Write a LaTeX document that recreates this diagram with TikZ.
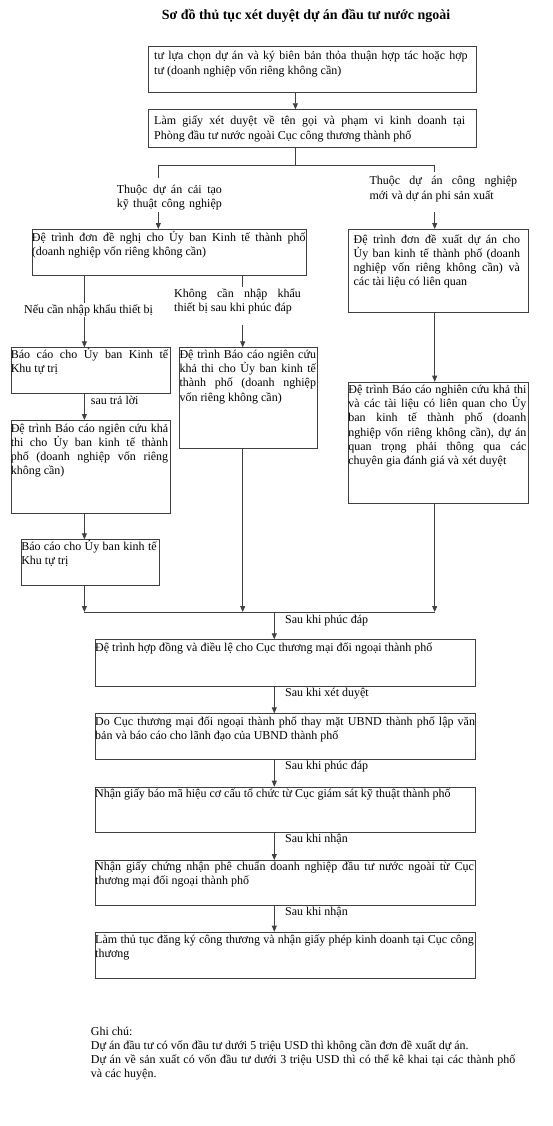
\documentclass[tikz,border=0pt]{standalone}
\usepackage{fontspec}
\setmainfont{Liberation Serif}
\usetikzlibrary{arrows.meta}
\newcommand{\JL}[1]{\makebox[\linewidth][s]{#1}}
\begin{document}
\begin{tikzpicture}[x=1pt,y=-1pt,
  box/.style={draw=black!75, line width=0.8pt, anchor=north west, inner sep=0pt},
  txt/.style={anchor=base west, inner sep=0pt, font=\fontsize{12}{14.2}\selectfont},
  lab/.style={txt, fill=white},
  conn/.style={draw=black!75, line width=0.8pt},
  arr/.style={conn, -{Triangle[length=6pt,width=5pt]}}
]
\useasboundingbox (0,0) rectangle (552,1126);

% title
\node[anchor=base, inner sep=0pt, font=\fontsize{14}{16}\selectfont\bfseries] (title) at (306,19.5) {Sơ đồ thủ tục xét duyệt dự án đầu tư nước ngoài};

% boxes
\node[box, minimum width=328.1pt, minimum height=46pt]   (b1)  at (147.7,46)    {};
\node[box, minimum width=328.1pt, minimum height=37.4pt] (b2)  at (147.7,109.3) {};
\node[box, minimum width=274.3pt, minimum height=46pt]   (b3)  at (31.7,229)    {};
\node[box, minimum width=179.3pt, minimum height=82.7pt] (b4)  at (348.2,229)   {};
\node[box, minimum width=158.9pt, minimum height=45.4pt] (b5)  at (10.6,347.3)  {};
\node[box, minimum width=137.2pt, minimum height=101pt]  (b6)  at (179.3,347.3) {};
\node[box, minimum width=158.9pt, minimum height=92.7pt] (b7)  at (10.6,420)    {};
\node[box, minimum width=179.3pt, minimum height=121.6pt](b8)  at (348.2,381.7) {};
\node[box, minimum width=137.9pt, minimum height=45.7pt] (b9)  at (21.1,539.3)  {};
\node[box, minimum width=379.8pt, minimum height=46.4pt] (b10) at (95,639.3)    {};
\node[box, minimum width=379.8pt, minimum height=45.7pt] (b11) at (95,713.3)    {};
\node[box, minimum width=379.8pt, minimum height=45.6pt] (b12) at (95,786.7)    {};
\node[box, minimum width=379.8pt, minimum height=45pt]   (b13) at (95,860)      {};
\node[box, minimum width=379.8pt, minimum height=46.6pt] (b14) at (95,931.7)    {};

% box texts
\node[txt] (t1) at (154,60) {\parbox[t]{313.5pt}{\JL{tư lựa chọn dự án và ký biên bản thỏa thuận hợp tác hoặc hợp}\\tư (doanh nghiệp vốn riêng không cần)}};
\node[txt] (t2) at (154,125) {\parbox[t]{311pt}{\JL{Làm giấy xét duyệt về tên gọi và phạm vi kinh doanh tại}\\Phòng đầu tư nước ngoài Cục công thương thành phố}};
\node[txt] (t3) at (31.7,241) {\parbox[t]{273.6pt}{\JL{Đệ trình đơn đề nghị cho Ủy ban Kinh tế thành phố}\\(doanh nghiệp vốn riêng không cần)}};
\node[txt] (t4) at (353.4,243) {\parbox[t]{166.4pt}{\JL{Đệ trình đơn đề xuất dự án cho}\\\JL{Ủy ban kinh tế thành phố (doanh}\\\JL{nghiệp vốn riêng không cần) và}\\các tài liệu có liên quan}};
\node[txt] (t5) at (10.6,358.5) {\parbox[t]{157.4pt}{\JL{Báo cáo cho Ủy ban Kinh tế}\\Khu tự trị}};
\node[txt] (t6) at (179.3,358.5) {\parbox[t]{136.5pt}{\JL{Đệ trình Báo cáo ngiên cứu}\\\JL{khả thi cho Ủy ban kinh tế}\\\JL{thành phố (doanh nghiệp}\\vốn riêng không cần)}};
\node[txt] (t7) at (10.6,432) {\parbox[t]{157.4pt}{\JL{Đệ trình Báo cáo ngiên cứu khả}\\\JL{thi cho Ủy ban kinh tế thành}\\\JL{phố (doanh nghiệp vốn riêng}\\không cần)}};
\node[txt] (t8) at (348.2,393.5) {\parbox[t]{178pt}{\JL{Đệ trình Báo cáo nghiên cứu khả thi}\\\JL{và các tài liệu có liên quan cho Ủy}\\\JL{ban kinh tế thành phố (doanh}\\\JL{nghiệp vốn riêng không cần), dự án}\\\JL{quan trọng phải thông qua các}\\chuyên gia đánh giá và xét duyệt}};
\node[txt] (t9) at (21.1,550) {\parbox[t]{135.4pt}{\JL{Báo cáo cho Ủy ban kinh tế}\\Khu tự trị}};
\node[txt] (t10) at (95,651) {Đệ trình hợp đồng và điều lệ cho Cục thương mại đối ngoại thành phố};
\node[txt] (t11) at (95,725) {\parbox[t]{379.8pt}{\JL{Do Cục thương mại đối ngoại thành phố thay mặt UBND thành phố lập văn}\\bản và báo cáo cho lãnh đạo của UBND thành phố}};
\node[txt] (t12) at (95,797) {Nhận giấy báo mã hiệu cơ cấu tổ chức từ Cục giám sát kỹ thuật thành phố};
\node[txt] (t13) at (95,870) {\parbox[t]{378.7pt}{\JL{Nhận giấy chứng nhận phê chuẩn doanh nghiệp đầu tư nước ngoài từ Cục}\\thương mại đối ngoại thành phố}};
\node[txt] (t14) at (95,943.5) {\parbox[t]{378.7pt}{\JL{Làm thủ tục đăng ký công thương và nhận giấy phép kinh doanh tại Cục công}\\thương}};

% coordinates for connectors
\coordinate (xa) at (295.4,0);
\coordinate (jl) at (158.3,165);
\coordinate (jr) at (434.7,165);
\coordinate (xl) at (84.4,0);
\coordinate (xm) at (242.7,0);
\coordinate (jb1) at (84.4,612);
\coordinate (jb3) at (434.7,612);
\coordinate (xc) at (274.3,0);

% connectors
\draw[arr] (xa |- b1.south) -- (xa |- b2.north);
\draw[conn] (xa |- b2.south) -- (xa |- jl);
\draw[conn] (jl) -- (jr);
\draw[arr] (jl) -- (jl |- b3.north);
\draw[arr] (jr) -- (jr |- b4.north);
\draw[arr] (xl |- b3.south) -- (xl |- b5.north);
\draw[arr] (xm |- b3.south) -- (xm |- b6.north);
\draw[arr] (jr |- b4.south) -- (jr |- b8.north);
\draw[arr] (xl |- b5.south) -- (xl |- b7.north);
\draw[arr] (xl |- b7.south) -- (xl |- b9.north);
\draw[arr] (xl |- b9.south) -- (jb1);
\draw[arr] (xm |- b6.south) -- (xm |- jb1);
\draw[arr] (jr |- b8.south) -- (jb3);
\draw[conn] (jb1) -- (jb3);
\draw[arr] (xc |- jb1) -- (xc |- b10.north);
\draw[arr] (xc |- b10.south) -- (xc |- b11.north);
\draw[arr] (xc |- b11.south) -- (xc |- b12.north);
\draw[arr] (xc |- b12.south) -- (xc |- b13.north);
\draw[arr] (xc |- b13.south) -- (xc |- b14.north);

% branch labels (white background over lines)
\node[lab, text height=15.2pt, text depth=18.2pt] (l1) at (116.7,193.5) {\parbox[t]{105pt}{\JL{Thuộc dự án cải tạo}\\\JL{kỹ thuật công nghiệp}}};
\node[lab, text height=13.3pt, text depth=26.7pt] (l2) at (369.3,185) {\parbox[t]{147.7pt}{\JL{Thuộc dự án công nghiệp}\\mới và dự án phi sản xuất}};
\node[lab, text height=10pt, text depth=4pt] (l3) at (23.9,313) {Nếu cần nhập khẩu thiết bị};
\node[lab, text height=10pt, text depth=28pt] (l4) at (174,297) {\parbox[t]{126.7pt}{\JL{Không cần nhập khẩu}\\thiết bị sau khi phúc đáp}};

% step labels
\node[txt] (s1) at (90.7,404) {sau trả lời};
\node[txt] (s2) at (284.9,623.5) {Sau khi phúc đáp};
\node[txt] (s3) at (284.9,696) {Sau khi xét duyệt};
\node[txt] (s4) at (284.9,769.5) {Sau khi phúc đáp};
\node[txt] (s5) at (284.9,842) {Sau khi nhận};
\node[txt] (s6) at (284.9,915) {Sau khi nhận};

% notes
\node[txt] (note) at (90.7,1035) {\parbox[t]{424.5pt}{Ghi chú:\\Dự án đầu tư có vốn đầu tư dưới 5 triệu USD thì không cần đơn đề xuất dự án.\\\JL{Dự án về sản xuất có vốn đầu tư dưới 3 triệu USD thì có thể kê khai tại các thành phố}\\và các huyện.}};
\end{tikzpicture}
\end{document}
